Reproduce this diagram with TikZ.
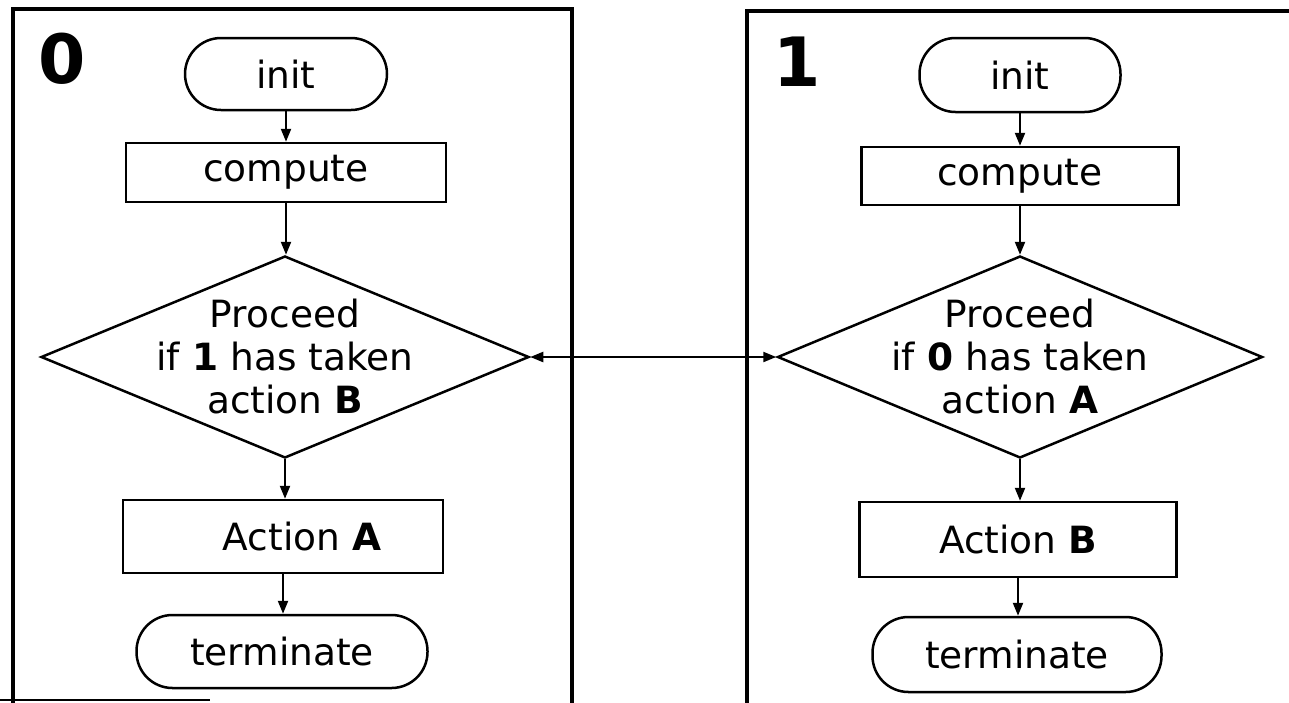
\documentclass[tikz,border=0pt]{standalone}
\usepackage{fontspec}
\setmainfont{DejaVu Sans}
\usetikzlibrary{shapes.geometric,arrows.meta}
\tikzset{
  txt/.style={font=\fontsize{37.5}{43}\selectfont},
  base/.style={draw=black, line width=2.5pt, inner sep=0pt, txt},
  termbox/.style={base, rectangle, rounded corners=36pt},
  procbox/.style={base, rectangle},
  decbox/.style={base, diamond},
  flow/.style={line width=2.2pt, -{Triangle[length=13pt,width=10pt]}},
  both/.style={line width=2.2pt, {Triangle[length=13pt,width=10pt]}-{Triangle[length=13pt,width=10pt]}},
  frame/.style={line width=3.5pt},
  lbl/.style={font=\fontsize{68}{68}\selectfont\bfseries, inner sep=0pt}
}
\begin{document}
\begin{tikzpicture}[x=1pt,y=-1pt]
\useasboundingbox (0,0) rectangle (1289,702);
% frames
\draw[frame] (13,712) -- (13,9) -- (572,9) -- (572,712);
\draw[frame] (747,712) -- (747,11) -- (1300,11);
\draw[line width=2pt] (0,700) -- (210,700);
\node[lbl] (l0) at (62,59) {0};
\node[lbl] (l1) at (797,62) {1};
% left flow
\node[termbox, minimum width=202pt, minimum height=72pt] (init0) at (286,74) {init};
\node[procbox, minimum width=320pt, minimum height=59pt] (comp0) at (286,172.5) {compute};
\node[decbox, minimum width=488pt, minimum height=202pt] (dec0) at (285,357) {};
\node[txt, align=center, inner sep=0pt] (t0) at (dec0) {Proceed\\if \textbf{1} has taken\\action \textbf{B}};
\node[procbox, minimum width=320pt, minimum height=73pt] (actA) at (283,536.5) {\hspace*{38pt}Action \textbf{A}};
\node[termbox, minimum width=291pt, minimum height=73pt] (term0) at (282,651.5) {terminate};
% right flow
\node[termbox, minimum width=201pt, minimum height=74pt] (init1) at (1020,75) {init};
\node[procbox, minimum width=317pt, minimum height=58pt] (comp1) at (1020,176) {compute};
\node[decbox, minimum width=485pt, minimum height=202pt] (dec1) at (1020,357) {};
\node[txt, align=center, inner sep=0pt] (t1) at (dec1) {Proceed\\if \textbf{0} has taken\\action \textbf{A}};
\node[procbox, minimum width=317pt, minimum height=75pt] (actB) at (1018,539.5) {Action \textbf{B}};
\node[termbox, minimum width=289pt, minimum height=75pt] (term1) at (1017,654.5) {terminate};
% connectors
\draw[flow] (init0.south) -- (init0.south |- comp0.north);
\draw[flow] (comp0.south) -- (comp0.south |- dec0.north);
\draw[flow] (dec0.south) -- (dec0.south |- actA.north);
\draw[flow] (actA.south) -- (actA.south |- term0.north);
\draw[flow] (init1.south) -- (init1.south |- comp1.north);
\draw[flow] (comp1.south) -- (comp1.south |- dec1.north);
\draw[flow] (dec1.south) -- (dec1.south |- actB.north);
\draw[flow] (actB.south) -- (actB.south |- term1.north);
\draw[both] (dec0.east) -- (dec1.west);
\end{tikzpicture}
\end{document}
